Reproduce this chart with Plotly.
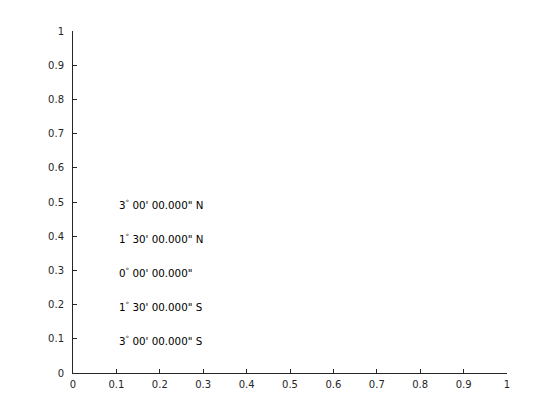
import plotly.graph_objects as go

labels = ["3<sup>°</sup> 00' 00.000\" N",
          "1<sup>°</sup> 30' 00.000\" N",
          "0<sup>°</sup> 00' 00.000\"",
          "1<sup>°</sup> 30' 00.000\" S",
          "3<sup>°</sup> 00' 00.000\" S"]
label_y = [0.5, 0.4, 0.3, 0.2, 0.1]
label_x = [0.1, 0.1, 0.1, 0.1, 0.1]
tick_vals = [0, 0.1, 0.2, 0.3, 0.4, 0.5, 0.6, 0.7, 0.8, 0.9, 1]
tick_text = ["0", "0.1", "0.2", "0.3", "0.4", "0.5", "0.6", "0.7", "0.8", "0.9", "1"]

fig = go.Figure()
# invisible trace to establish the axes
fig.add_trace(go.Scatter(x=label_x, y=label_y, mode="markers",
                         marker=dict(opacity=0), hoverinfo="skip",
                         showlegend=False))

for lx, ly, lt in zip(label_x, label_y, labels):
    fig.add_annotation(x=lx, y=ly, text=lt, showarrow=False,
                       xanchor="left", yanchor="middle",
                       xshift=1, yshift=-2,
                       font=dict(family="DejaVu Sans", size=10.3, color="#000000"))

axis_common = dict(
    range=[0, 1], tickvals=tick_vals, ticktext=tick_text,
    showline=True, linecolor="#262626", linewidth=1,
    ticks="inside", ticklen=4, tickcolor="#262626",
    showgrid=False, zeroline=False, mirror=False,
    tickfont=dict(family="DejaVu Sans", size=10, color="#262626"),
    fixedrange=True, automargin=False,
)
fig.update_xaxes(**axis_common, ticklabelstandoff=2)
fig.update_yaxes(**axis_common, ticklabelstandoff=6)
fig.update_layout(
    width=560, height=420,
    margin=dict(l=73, r=53, t=31, b=47),
    plot_bgcolor="white", paper_bgcolor="white",
)
fig.write_html("out.html", config={"displayModeBar": False},
               post_script="document.body.style.margin='0';document.body.style.overflow='hidden';")
